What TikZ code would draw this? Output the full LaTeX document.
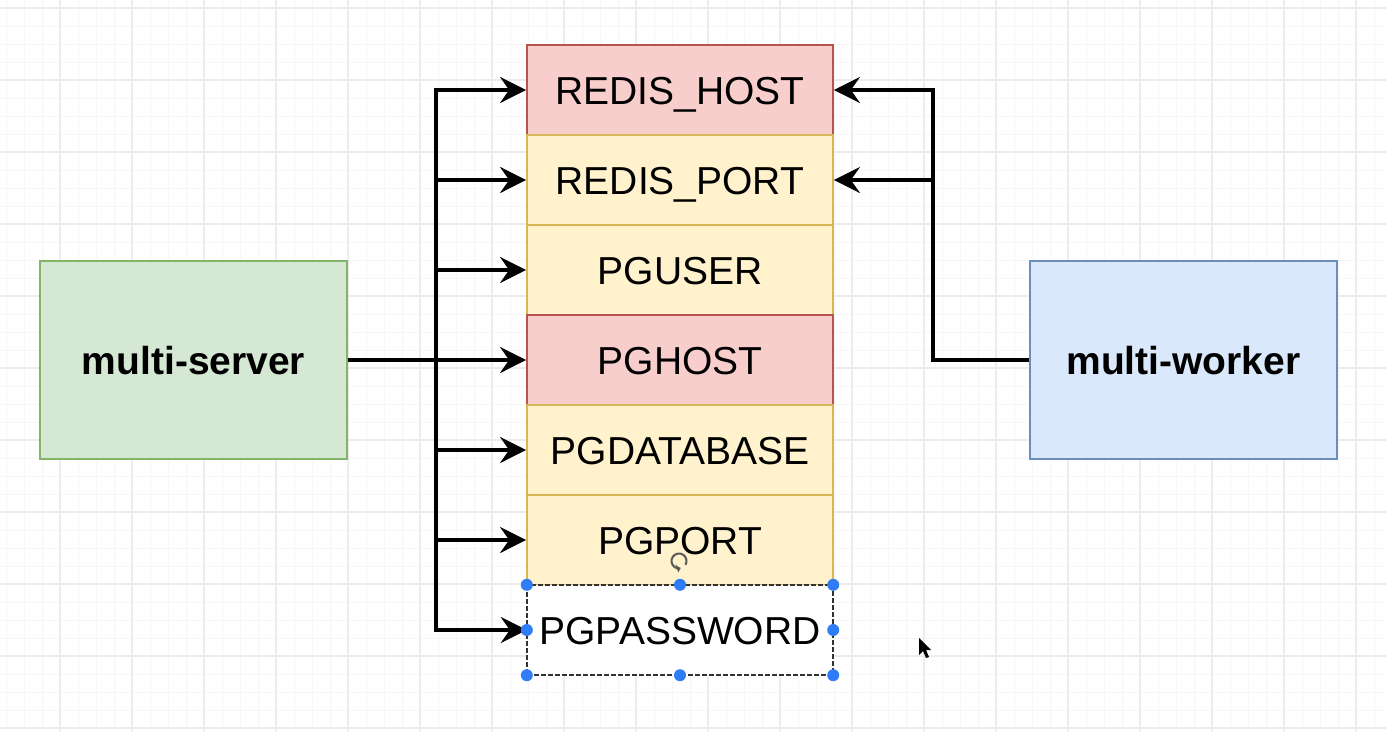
\documentclass[tikz,border=0pt]{standalone}
\usepackage{fontspec}
\setmainfont{Liberation Sans}
\usetikzlibrary{arrows.meta}
\definecolor{gridminor}{HTML}{F6F6F6}
\definecolor{gridmajor}{HTML}{ECECEC}
\definecolor{redfill}{HTML}{F8CECC}
\definecolor{redline}{HTML}{B85450}
\definecolor{yelfill}{HTML}{FFF2CC}
\definecolor{yelline}{HTML}{D6B656}
\definecolor{grnfill}{HTML}{D5E8D4}
\definecolor{grnline}{HTML}{82B366}
\definecolor{blufill}{HTML}{DAE8FC}
\definecolor{bluline}{HTML}{6C8EBF}
\definecolor{handle}{HTML}{2F7DF6}
\tikzset{
  every node/.style={font=\fontsize{39}{47}\selectfont, inner sep=0pt, text=black, text height=28pt, text depth=0pt},
  cell/.style={draw, line width=1.8pt, minimum width=306pt, minimum height=90pt},
  redcell/.style={cell, fill=redfill, draw=redline},
  yelcell/.style={cell, fill=yelfill, draw=yelline},
  bigbox/.style={line width=1.8pt, minimum width=307pt, minimum height=198pt, font=\fontsize{39}{47}\selectfont\bfseries},
  conn/.style={line width=3.6pt, draw=black, -{Stealth[length=26pt, width=26pt, inset=9pt]}},
  dot/.style={circle, fill=handle, minimum size=12pt, inner sep=0pt, text height=0pt}
}
\begin{document}
\begin{tikzpicture}[x=1pt, y=-1pt]
\useasboundingbox (0,0) rectangle (1386,731);
\fill[white] (0,0) rectangle (1386,731);
% grid
\foreach \gx in {6,24,...,1386} \draw[gridminor, line width=0.9pt] (\gx,0) -- (\gx,731);
\foreach \gy in {8,26,...,731} \draw[gridminor, line width=0.9pt] (0,\gy) -- (1386,\gy);
\foreach \gx in {60,132,...,1386} \draw[gridmajor, line width=1.1pt] (\gx,0) -- (\gx,731);
\foreach \gy in {8,80,...,731} \draw[gridmajor, line width=1.1pt] (0,\gy) -- (1386,\gy);

% side boxes
\node[bigbox, draw=grnline, fill=grnfill] (ms) at (193.5,360) {multi-server};
\node[bigbox, draw=bluline, fill=blufill] (mw) at (1183.5,360) {multi-worker};

% column
\node[redcell] (r1) at (680,90) {REDIS\_HOST};
\node[yelcell] (r2) at (680,180) {REDIS\_PORT};
\node[yelcell] (r3) at (680,270) {PGUSER};
\node[redcell] (r4) at (680,360) {PGHOST};
\node[yelcell] (r5) at (680,450) {PGDATABASE};
\node[yelcell] (r6) at (680,540) {PGPORT};
\node[minimum width=306pt, minimum height=90pt, fill=white] (r7) at (680,630) {PGPASSWORD};
\draw[black!80, line width=1.6pt, dash pattern=on 5pt off 2pt] (r7.north west) rectangle (r7.south east);

% connectors
\coordinate (jl) at (436,360);
\coordinate (jr) at (933,360);
\foreach \r in {r1,r2,r3,r5,r6,r7} \draw[conn] (ms.east) -- (jl) |- (\r.west);
\draw[conn] (ms.east) -- (r4.west);
\draw[conn] (mw.west) -- (jr) |- (r1.east);
\draw[conn] (mw.west) -- (jr) |- (r2.east);

% selection handles
\foreach \a in {north west,north,north east,west,east,south west,south,south east}
  \node[dot] at (r7.\a) {};
% rotation handle
\draw[black!65, line width=2pt] (679,561) ++(80:7.5) arc[start angle=80, end angle=390, radius=7.5];
\fill[black!65] (679,561) ++(80:7.5) -- ++(-5,-4) -- ++(3,8) -- cycle;
% mouse cursor
\fill[black] (919,638) -- (919,655) -- (923,651) -- (926,658) -- (929,657) -- (926,650) -- (931,650) -- cycle;
\end{tikzpicture}
\end{document}
